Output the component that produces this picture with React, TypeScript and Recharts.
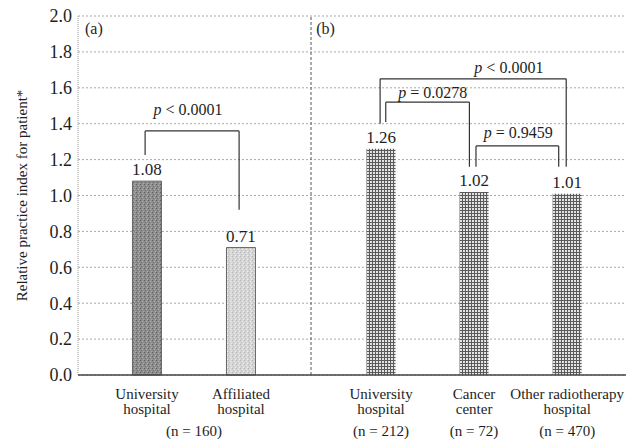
import { BarChart, Bar, XAxis, YAxis, CartesianGrid, ReferenceLine, ReferenceDot, Cell, LabelList } from 'recharts'

// categories and values
const categories = ['University hospital', 'Affiliated hospital', 'University hospital', 'Cancer center', 'Other radiotherapy hospital']
const values = [1.08, 0.71, 1.26, 1.02, 1.01]
const groups = ['a', 'a', 'b', 'b', 'b']
const nLabels = ['(n = 160)', '(n = 212)', '(n = 72)', '(n = 470)']
const yTicks = [0, 0.2, 0.4, 0.6, 0.8, 1.0, 1.2, 1.4, 1.6, 1.8, 2.0]

// p-value comparisons: [fromIndex, toIndex, label]
const comparisons: [number, number, string][] = [
  [0, 1, '< 0.0001'],
  [2, 4, '< 0.0001'],
  [2, 3, '= 0.0278'],
  [3, 4, '= 0.9459'],
]

// layout (category centres on a numeric x axis)
const xPos = [1, 2, 3.49, 4.48, 5.47]
const xDomain = [0.266, 6.096]
const divider = 2.745
// bracket geometry per comparison: left end, right end, top, left foot, right foot, text x, text y
const brackets = [
  { x1: 0.98, x2: 1.98, top: 1.36, y1: 1.225, y2: 0.92, tx: 1.436, ty: 1.476 },
  { x1: 3.48, x2: 5.46, top: 1.65, y1: 1.40, y2: 1.16, tx: 4.85, ty: 1.71 },
  { x1: 3.54, x2: 4.43, top: 1.52, y1: 1.41, y2: 1.16, tx: 4.04, ty: 1.571 },
  { x1: 4.50, x2: 5.38, top: 1.276, y1: 1.16, y2: 1.16, tx: 4.95, ty: 1.348 },
]

const data = categories.map((c, i) => ({ x: xPos[i], name: c, value: values[i], group: groups[i] }))

const FONT = 'Liberation Serif, Times New Roman, serif'
const INK = '#1e1e1e'
const serif = (size: number) => ({ fontFamily: FONT, fontSize: size, fill: INK })

const tickVals = [xPos[0], (xPos[0] + xPos[1]) / 2, xPos[1], xPos[2], xPos[3], xPos[4]]
const tickText: string[][] = [
  ['University', 'hospital', ''],
  ['', '', nLabels[0]],
  ['Affiliated', 'hospital', ''],
  ['University', 'hospital', nLabels[1]],
  ['Cancer', 'center', nLabels[2]],
  ['Other radiotherapy', 'hospital', nLabels[3]],
]

const XTick = ({ x, y, payload }: any) => {
  const idx = tickVals.findIndex(v => Math.abs(v - payload.value) < 1e-6)
  const lines = tickText[idx] ?? ['', '', '']
  return (
    <g>
      {lines.map((l, i) => l ? (
        <text key={i} x={x} y={y + [22, 37, 59][i]} textAnchor="middle" style={serif(15)}>{l}</text>
      ) : null)}
    </g>
  )
}

const fills = ['url(#darkGrain)', 'url(#lightGrain)', 'url(#mesh)', 'url(#mesh)', 'url(#mesh)']

const pLabel = (text: string) => (props: any) => {
  const vb = props.viewBox || {}
  const cx = vb.x + (vb.width || 0) / 2
  const cy = vb.y + (vb.height || 0) / 2
  return (
    <text x={cx} y={cy + 5} textAnchor="middle" style={serif(16)}>
      <tspan style={{ fontStyle: 'italic' }}>p</tspan> {text}
    </text>
  )
}

const panelLabel = (text: string) => (props: any) => {
  const vb = props.viewBox || {}
  return (
    <text x={vb.x} y={vb.y + 6} textAnchor="start" style={serif(16)}>{text}</text>
  )
}

export default function App() {
  const lineStyle = { stroke: '#333', strokeWidth: 1.2 }
  return (
    <div style={{ position: 'absolute', left: 0, top: 0, background: '#fff' }}>
      <BarChart width={626} height={439} data={data} margin={{ top: 16, right: 0, left: 0, bottom: 0 }}>
        <defs>
          <pattern id="darkGrain" width="4" height="4" patternUnits="userSpaceOnUse">
            <rect width="4" height="4" fill="#8e8e8e" />
            <rect x="0" y="0" width="1" height="1" fill="#5e5e5e" />
            <rect x="2" y="1" width="1" height="1" fill="#b0b0b0" />
            <rect x="1" y="2" width="1" height="1" fill="#6a6a6a" />
            <rect x="3" y="3" width="1" height="1" fill="#a8a8a8" />
          </pattern>
          <pattern id="lightGrain" width="4" height="4" patternUnits="userSpaceOnUse">
            <rect width="4" height="4" fill="#d6d6d6" />
            <rect x="0" y="0" width="1" height="1" fill="#b4b4b4" />
            <rect x="2" y="1" width="1" height="1" fill="#eeeeee" />
            <rect x="1" y="2" width="1" height="1" fill="#bcbcbc" />
            <rect x="3" y="3" width="1" height="1" fill="#ececec" />
          </pattern>
          <pattern id="mesh" width="3" height="3" patternUnits="userSpaceOnUse">
            <rect width="3" height="3" fill="#e4e4e4" />
            <rect x="0" y="0" width="3" height="1" fill="#5a5a5a" />
            <rect x="0" y="0" width="1" height="3" fill="#5a5a5a" />
          </pattern>
        </defs>
        <CartesianGrid vertical={false} stroke="#a8a8a8" strokeDasharray="2 2" />
        <XAxis
          type="number"
          dataKey="x"
          domain={xDomain}
          allowDataOverflow
          ticks={tickVals}
          interval={0}
          tick={<XTick />}
          tickLine={false}
          tickSize={0}
          axisLine={{ stroke: '#444', strokeWidth: 1.6 }}
          height={64}
        />
        <YAxis
          domain={[0, 2]}
          ticks={yTicks}
          interval={0}
          tickFormatter={(v: number) => v.toFixed(1)}
          tick={{ style: serif(18) }}
          tickLine={false}
          tickSize={0}
          tickMargin={6}
          axisLine={{ stroke: '#999', strokeDasharray: '1 1' }}
          width={78}
          label={{ value: 'Relative practice index for patient*', angle: -90, position: 'insideLeft', offset: 22, style: { textAnchor: 'middle', ...serif(15) } }}
        />
        <ReferenceLine x={divider} stroke="#555" strokeDasharray="3 2" />
        <Bar dataKey="value" barSize={29} isAnimationActive={false}>
          {data.map((d, i) => (
            <Cell key={i} fill={fills[i]} stroke={i < 2 ? '#666' : 'none'} strokeWidth={1} />
          ))}
          <LabelList dataKey="value" position="top" offset={6} formatter={(v: any) => Number(v).toFixed(2)} style={serif(17)} />
        </Bar>
        {brackets.map((b, i) => (
          <ReferenceLine key={'l' + i} segment={[{ x: b.x1, y: b.y1 }, { x: b.x1, y: b.top }]} {...lineStyle} ifOverflow="visible" />
        ))}
        {brackets.map((b, i) => (
          <ReferenceLine key={'t' + i} segment={[{ x: b.x1, y: b.top }, { x: b.x2, y: b.top }]} {...lineStyle} ifOverflow="visible" />
        ))}
        {brackets.map((b, i) => (
          <ReferenceLine key={'r' + i} segment={[{ x: b.x2, y: b.top }, { x: b.x2, y: b.y2 }]} {...lineStyle} ifOverflow="visible" />
        ))}
        {comparisons.map((c, i) => (
          <ReferenceDot key={'p' + i} x={brackets[i].tx} y={brackets[i].ty} r={0} fill="none" stroke="none" label={pLabel(c[2])} ifOverflow="visible" />
        ))}
        <ReferenceDot x={0.34} y={1.933} r={0} fill="none" stroke="none" label={panelLabel('(a)')} ifOverflow="visible" />
        <ReferenceDot x={2.8} y={1.933} r={0} fill="none" stroke="none" label={panelLabel('(b)')} ifOverflow="visible" />
      </BarChart>
    </div>
  )
}
